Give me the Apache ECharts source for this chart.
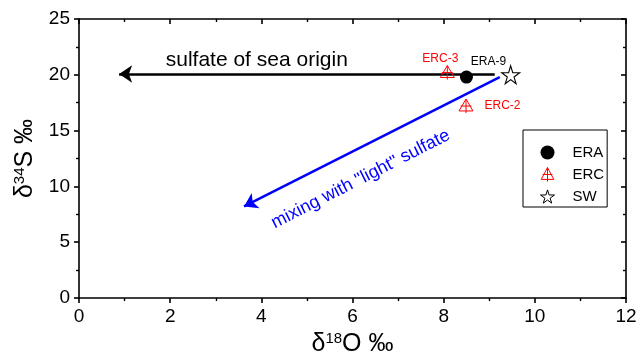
<!DOCTYPE html>
<html>
<head>
<meta charset="utf-8">
<script src="https://cdn.jsdelivr.net/npm/echarts@6/dist/echarts.min.js"></script>
<style>
  html, body { margin: 0; padding: 0; background: #fff; }
  #chart { width: 640px; height: 356px; }
</style>
</head>
<body>
<div id="chart"></div>
<script>
// points: [d18O, d34S, label]
const eraPoints = [[8.5, 19.8, "ERA-9"]];
const ercPoints = [[8.08, 20.2, "ERC-3"], [8.49, 17.2, "ERC-2"]];
const swPoints = [[9.47, 20.0]];

// arrows: [start, end]
const seaArrow = [[9.12, 20.07], [0.88, 20.07]];
const mixArrow = [[9.23, 19.8], [3.62, 8.2]];

const xTicks = [0, 2, 4, 6, 8, 10, 12];
const yTicks = [0, 5, 10, 15, 20, 25];

const starPath = "path://M50,0 L61,35 L98,35 L68,57 L79,91 L50,70 L21,91 L32,57 L2,35 L39,35 Z";
const ercPath = "path://M50,0 L95,85 L5,85 Z M50,0 L50,100 M15,50 L85,50";

const font = "Liberation Sans, Arial, sans-serif";

const chart = echarts.init(document.getElementById("chart"));

function frameAxis(extra) {
  return Object.assign({
    axisLine: { show: true, onZero: false, lineStyle: { color: "#000", width: 1.6 } },
    axisTick: { show: true, length: 5, lineStyle: { color: "#000", width: 1.6 } },
    minorTick: { show: true, splitNumber: 2, length: 3, lineStyle: { color: "#000", width: 1.4 } },
    splitLine: { show: false },
    axisLabel: { color: "#000", fontSize: 19, fontFamily: font }
  }, extra);
}

const nameRich = {
  d: { fontSize: 25, fontFamily: font, color: "#000" },
  s: { fontSize: 15, fontFamily: font, color: "#000", padding: [0, 0, 11, 0] }
};

const option = {
  animation: false,
  grid: { left: 79, right: 14, top: 19, bottom: 58, outerBoundsMode: "none" },
  xAxis: [
    frameAxis({
      type: "value", position: "bottom",
      min: xTicks[0], max: xTicks[xTicks.length - 1], interval: 2,
      axisLabel: { color: "#000", fontSize: 19, fontFamily: font, margin: 9 },
      name: "{d|δ}{s|18}{d|O ‰}",
      nameLocation: "middle", nameGap: 27,
      nameTextStyle: { color: "#000", fontFamily: font, rich: nameRich }
    }),
    frameAxis({
      type: "value", position: "top",
      min: xTicks[0], max: xTicks[xTicks.length - 1], interval: 2,
      axisTick: { show: true, inside: true, length: 5, lineStyle: { color: "#000", width: 1.6 } },
      axisLabel: { show: false }
    })
  ],
  yAxis: [
    frameAxis({
      type: "value", position: "left",
      min: yTicks[0], max: yTicks[yTicks.length - 1], interval: 5,
      axisLabel: { color: "#000", fontSize: 19, fontFamily: font, margin: 9 },
      name: "{d|δ}{s|34}{d|S ‰}",
      nameLocation: "middle", nameGap: 36,
      nameTextStyle: { color: "#000", fontFamily: font, rich: nameRich }
    }),
    frameAxis({
      type: "value", position: "right",
      min: yTicks[0], max: yTicks[yTicks.length - 1], interval: 5,
      axisTick: { show: true, inside: true, length: 5, lineStyle: { color: "#000", width: 1.6 } },
      axisLabel: { show: false }
    })
  ],
  legend: {
    data: [
      { name: "ERA", itemStyle: { color: "#000", opacity: 1 } },
      { name: "ERC", itemStyle: { color: "#fff", borderColor: "#ff0000", borderWidth: 1, opacity: 1 } },
      { name: "SW", itemStyle: { color: "#fff", borderColor: "#000", borderWidth: 1, opacity: 1 } }
    ],
    orient: "vertical",
    left: 523, top: 130,
    padding: [15, 3, 3, 17],
    itemWidth: 14, itemHeight: 14, itemGap: 7,
    borderColor: "#000", borderWidth: 1,
    textStyle: { color: "#000", fontSize: 15, fontFamily: font, padding: [0, 0, 0, 13] }
  },
  series: [
    {
      type: "lines", coordinateSystem: "cartesian2d", silent: true,
      symbol: ["none", "arrow"], symbolSize: 13,
      lineStyle: { color: "#000", width: 2.5, opacity: 1 },
      data: [{ coords: seaArrow }]
    },
    {
      type: "lines", coordinateSystem: "cartesian2d", silent: true,
      symbol: ["none", "arrow"], symbolSize: 13,
      lineStyle: { color: "#0000ff", width: 2.5, opacity: 1 },
      data: [{ coords: mixArrow }]
    },
    {
      name: "ERA", type: "scatter", symbol: "circle", symbolSize: 13,
      itemStyle: { color: "#000", opacity: 1 },
      label: {
        show: true, position: "top", offset: [22, 2],
        formatter: p => p.value[2], color: "#000", fontSize: 12, fontFamily: font
      },
      data: eraPoints
    },
    {
      name: "ERC", type: "scatter", symbol: ercPath, symbolSize: 14,
      itemStyle: { color: "transparent", borderColor: "#ff0000", borderWidth: 1, opacity: 1 },
      label: { show: true, formatter: p => p.value[2], color: "#ff0000", fontSize: 12, fontFamily: font },
      data: [
        { value: ercPoints[0], label: { position: "top", offset: [-7, 5] } },
        { value: ercPoints[1], label: { position: "right", offset: [6, 0] } }
      ]
    },
    {
      name: "SW", type: "scatter", symbol: starPath, symbolSize: 18,
      itemStyle: { color: "#fff", borderColor: "#000", borderWidth: 1.1, opacity: 1 },
      data: swPoints
    },
    {
      type: "scatter", silent: true, symbolSize: 0,
      itemStyle: { opacity: 1 },
      label: { show: true, position: "inside", fontFamily: font },
      data: [
        { value: [3.9, 21.3], label: { formatter: "sulfate of sea origin", fontSize: 21, color: "#000" } },
        { value: [6.18, 10.65], label: { formatter: 'mixing with "light" sulfate', fontSize: 18, color: "#0000ff", rotate: 27 } }
      ]
    }
  ]
};

chart.setOption(option);
</script>
</body>
</html>
